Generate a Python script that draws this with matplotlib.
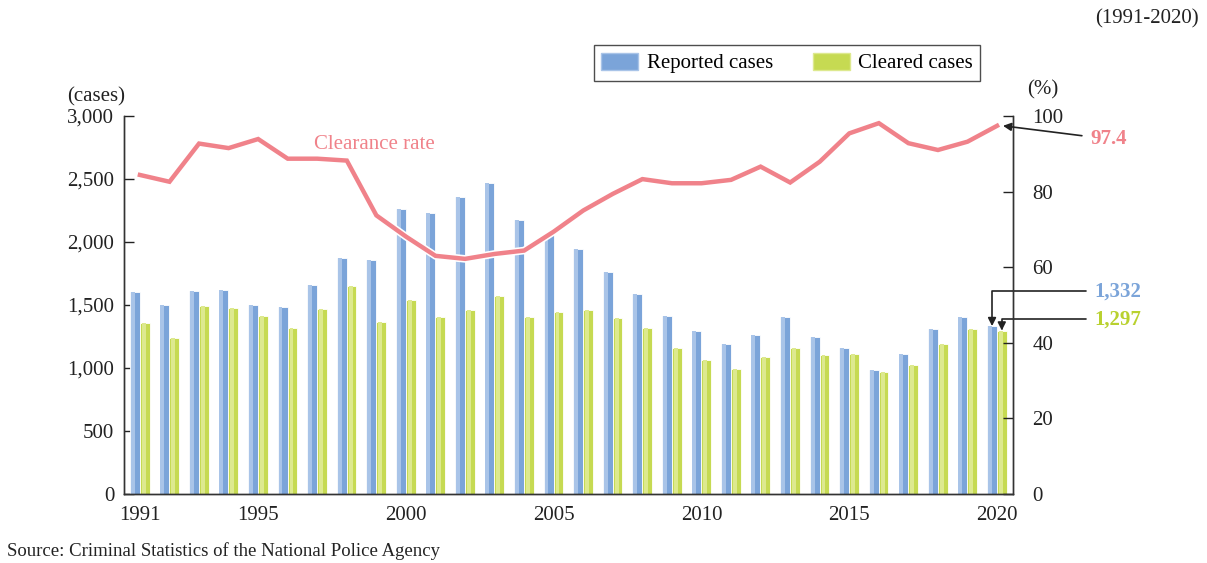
import matplotlib
matplotlib.use('Agg')
import matplotlib.pyplot as plt
import matplotlib.patheffects as pe
from matplotlib.patches import Patch

plt.rcParams['font.family'] = ['Liberation Serif', 'DejaVu Serif']

years = list(range(1991, 2021))
reported = [1601, 1500, 1609, 1619, 1498, 1484, 1659, 1871, 1855, 2262,
            2228, 2355, 2469, 2172, 2059, 1945, 1762, 1588, 1410, 1291,
            1188, 1262, 1405, 1246, 1162, 984, 1109, 1310, 1402, 1332]
cleared = [1357, 1238, 1490, 1476, 1413, 1315, 1466, 1648, 1368, 1537,
           1402, 1463, 1569, 1402, 1445, 1458, 1394, 1320, 1159, 1061,
           990, 1090, 1159, 1101, 1109, 966, 1021, 1188, 1307, 1297]
rate = [84.4, 82.6, 92.7, 91.5, 93.9, 88.7, 88.7, 88.2, 73.7, 68.1,
        63.0, 62.2, 63.5, 64.4, 69.4, 75.0, 79.4, 83.3, 82.2, 82.2,
        83.1, 86.6, 82.4, 87.9, 95.4, 98.1, 92.8, 91.0, 93.2, 97.4]
xticks = [1991, 1995, 2000, 2005, 2010, 2015, 2020]

BLUE = '#7ba4d9'
BLUE_L = '#a9c4e8'
GREEN = '#c6da52'
GREEN_L = '#dde98f'
PINK = '#f0828a'
DARK = '#222222'
FS = 15


def draw():
    fig = plt.figure(figsize=(12.07, 5.63), dpi=100)
    ax = fig.add_axes([0.1027, 0.1226, 0.7366, 0.6714])
    ax2 = ax.twinx()

    w = 0.33
    xr = [y - 0.17 for y in years]
    xc = [y + 0.16 for y in years]
    ax.bar(xr, reported, width=w, color=BLUE, edgecolor='white', linewidth=0.6, zorder=2)
    ax.bar([x - w * 0.22 for x in xr], reported, width=w * 0.4, color=BLUE_L,
           linewidth=0, zorder=2.5)
    ax.bar(xc, cleared, width=w, color=GREEN, edgecolor='white', linewidth=0.6, zorder=2)
    ax.bar([x - w * 0.1 for x in xc], cleared, width=w * 0.4, color=GREEN_L,
           linewidth=0, zorder=2.5)

    ax2.plot(years, rate, color=PINK, lw=3.2, solid_joinstyle='miter',
             path_effects=[pe.Stroke(linewidth=5.5, foreground='white'), pe.Normal()])

    ax.set_xlim(1991 - 0.54, 2020 + 0.54)
    ax.set_ylim(0, 3000)
    ax2.set_ylim(0, 100)
    ax.set_yticks(range(0, 3001, 500))
    ax.set_yticklabels(['{:,}'.format(v) for v in range(0, 3001, 500)])
    ax2.set_yticks(range(0, 101, 20))
    ax.set_xticks(xticks)

    for a in (ax, ax2):
        a.spines['top'].set_visible(False)
        for s in a.spines.values():
            s.set_color('#333333')
            s.set_linewidth(1.0)
        a.tick_params(axis='y', direction='in', length=7, width=1,
                      labelsize=FS, colors=DARK, pad=7)
    ax.tick_params(axis='x', length=0, labelsize=FS, colors=DARK, pad=9)
    ax2.tick_params(axis='y', pad=14)

    fig.text(0.0555, 0.810, '(cases)', fontsize=FS, color=DARK, ha='left', va='bottom')
    fig.text(0.851, 0.824, '(%)', fontsize=FS, color=DARK, ha='left', va='bottom')
    fig.text(0.993, 0.950, '(1991-2020)', fontsize=FS, color=DARK, ha='right', va='bottom')
    fig.text(0.006, 0.005, 'Source: Criminal Statistics of the National Police Agency',
             fontsize=13.5, color=DARK, ha='left', va='bottom')

    ax2.text(1996.9, 92.5, 'Clearance rate', color=PINK, fontsize=FS, ha='left', va='center')

    ax2.annotate('97.4', xy=(2020.2, 97.4), xytext=(2023.15, 93.9),
                 color=PINK, fontsize=FS, fontweight='bold', ha='left', va='center',
                 annotation_clip=False,
                 arrowprops=dict(arrowstyle='-|>', color=DARK, lw=1.2,
                                 shrinkA=4, shrinkB=0, mutation_scale=12))
    ax.annotate('1,332', xy=(2019.83, 1332), xytext=(2023.3, 1610),
                color=BLUE, fontsize=FS, fontweight='bold', ha='left', va='center',
                annotation_clip=False,
                arrowprops=dict(arrowstyle='-|>', color=DARK, lw=1.2,
                                connectionstyle='angle,angleA=0,angleB=90,rad=0',
                                shrinkA=4, shrinkB=0, mutation_scale=12))
    ax.annotate('1,297', xy=(2020.16, 1297), xytext=(2023.3, 1385),
                color='#b9d12f', fontsize=FS, fontweight='bold', ha='left', va='center',
                annotation_clip=False,
                arrowprops=dict(arrowstyle='-|>', color=DARK, lw=1.2,
                                connectionstyle='angle,angleA=0,angleB=90,rad=0',
                                shrinkA=4, shrinkB=0, mutation_scale=12))

    handles = [Patch(facecolor=BLUE, edgecolor=BLUE_L), Patch(facecolor=GREEN, edgecolor=GREEN_L)]
    leg = fig.legend(handles, ['Reported cases', 'Cleared cases'], ncol=2,
                     loc='center', bbox_to_anchor=(0.652, 0.888), fontsize=FS,
                     frameon=True, fancybox=False, edgecolor=DARK,
                     handlelength=1.8, handleheight=0.9, columnspacing=1.9,
                     borderpad=0.35, handletextpad=0.4)
    leg.get_frame().set_linewidth(1.0)

    fig.savefig('out.png', dpi=100)


if __name__ == '__main__':
    draw()
